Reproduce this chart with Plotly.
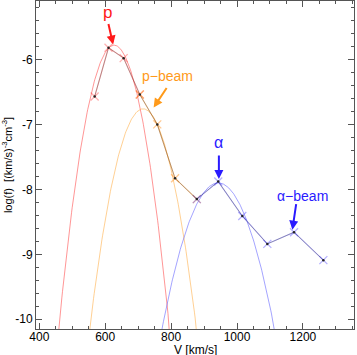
import numpy as np
import plotly.graph_objects as go

# measured distribution (V in km/s, log f)
v_obs = [568, 610, 656, 705, 758, 812, 878, 943, 1016, 1092, 1173, 1262]
logf_obs = [-6.57, -5.82, -5.98, -6.54, -7.00, -7.83, -8.15, -7.88, -8.41, -8.84, -8.66, -9.09]

# which part each colored overlay covers (index ranges into the obs arrays)
p_idx = [0, 1, 2, 3]
beam_idx = [3, 4, 5, 6]
alpha_idx = [6, 7, 8, 9, 10, 11]

# fitted Maxwellians: center speed, peak log f, width (km/s)
fits = {
    "p": dict(center=627, peak=-5.78, width=53, color="rgba(255,80,80,0.6)"),
    "p-beam": dict(center=715, peak=-6.76, width=58, color="rgba(255,170,60,0.55)"),
    "alpha": dict(center=943, peak=-7.90, width=75, color="rgba(90,90,255,0.55)"),
}

red = "#ff1a1a"
orange = "#ff9a1a"
blue = "#2a1aff"
axcol = "#555555"

fig = go.Figure()

vv = np.linspace(380, 1360, 500)
for name, f in fits.items():
    lf = f["peak"] - np.log10(np.e) * (vv - f["center"]) ** 2 / f["width"] ** 2
    fig.add_trace(go.Scatter(x=vv, y=lf, mode="lines",
                             line=dict(color=f["color"], width=1), hoverinfo="skip"))

# colored overlay segments + x markers
for idx, col in [(p_idx, "rgba(255,60,60,0.4)"), (beam_idx, "rgba(255,150,40,0.5)"),
                 (alpha_idx, "rgba(70,60,255,0.4)")]:
    fig.add_trace(go.Scatter(x=[v_obs[i] for i in idx], y=[logf_obs[i] for i in idx],
                             mode="lines+markers", line=dict(color=col, width=1.1),
                             marker=dict(symbol="x-thin-open", size=8,
                                         line=dict(color=col, width=1.3))))

fig.add_trace(go.Scatter(x=v_obs, y=logf_obs, mode="lines+markers",
                         line=dict(color="rgba(40,40,40,0.55)", width=0.6),
                         marker=dict(symbol="circle", size=2.5, color="#222222")))

# labels with arrows: tip (data), arrow tail offset (px), text position (data)
notes = [
    ("p", red, 17, 624, -5.77, -5, -22, 606, -5.27),
    ("p\u2212beam", orange, 14, 747, -6.74, 14, -21, 789, -6.26),
    ("\u03b1", blue, 16, 945, -7.84, 0, -25, 945, -7.28),
    ("\u03b1\u2212beam", blue, 14, 1168, -8.62, 4, -27, 1200, -8.1),
]
for text, col, size, ax_, ay_, dx, dy, tx, ty in notes:
    fig.add_annotation(x=ax_, y=ay_, ax=dx, ay=dy, text="", showarrow=True,
                       arrowhead=2, arrowsize=0.9, arrowwidth=2, arrowcolor=col)
    fig.add_annotation(x=tx, y=ty, text=text, showarrow=False,
                       font=dict(color=col, size=size))

axis = dict(showline=True, linecolor=axcol, linewidth=1, mirror="allticks",
            ticks="inside", ticklen=6, tickcolor=axcol, showgrid=False, zeroline=False,
            tickfont=dict(size=12, color="#000000"))

fig.update_layout(
    width=357, height=355,
    margin=dict(l=36, r=3, t=1, b=26),
    plot_bgcolor="white", paper_bgcolor="white",
    showlegend=False,
    font=dict(family="Liberation Sans, Arial, sans-serif", color="#000000"),
    xaxis=dict(axis, range=[390, 1355], tickvals=[400, 600, 800, 1000, 1200],
               ticklabelstandoff=-3,
               minor=dict(ticks="inside", dtick=50, tick0=400, ticklen=3, tickcolor=axcol)),
    yaxis=dict(axis, range=[-10.15, -5.1], tickvals=[-10, -9, -8, -7, -6],
               ticktext=["-10", "-9", "-8", "-7", "-6"],
               minor=dict(ticks="inside", dtick=0.2, tick0=-10, ticklen=3, tickcolor=axcol),
               title=dict(text="log(f)  [(km/s)<sup>-3</sup>cm<sup>-3</sup>]",
                          font=dict(size=11), standoff=4)),
)
fig.add_annotation(xref="paper", yref="paper", x=0.5, y=-0.064, yanchor="middle",
                   text="V [km/s]", showarrow=False, font=dict(size=12))

# page body has an 8px default margin; drop it so the figure sits at 0,0
fig.write_html("out.html", config={"displayModeBar": False},
               post_script="document.body.style.margin='0';")
